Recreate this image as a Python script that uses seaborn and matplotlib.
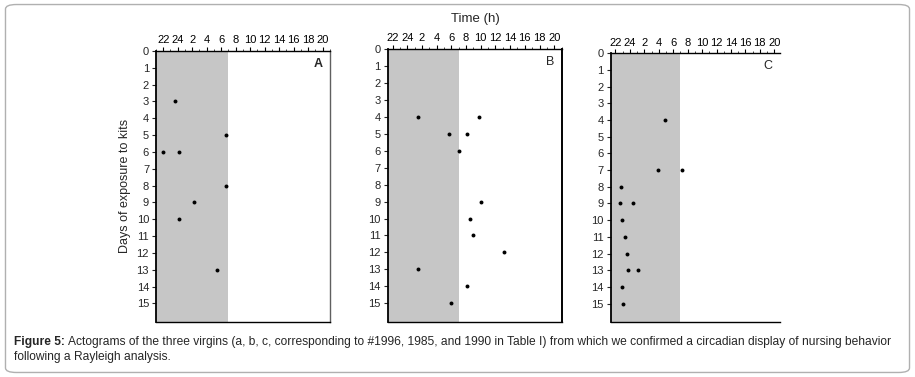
import numpy as np
import pandas as pd
import seaborn as sns
import matplotlib.pyplot as plt
from matplotlib.patches import FancyBboxPatch
from matplotlib.ticker import MultipleLocator, FixedLocator

sns.set_style("ticks")
plt.rcParams['font.family'] = ['Liberation Sans', 'DejaVu Sans']

# clock time (h) of each nursing bout and the day it happened
a_days = [3, 5, 6, 6, 8, 9, 10, 13]
a_hours = [23.6, 6.6, 22.0, 0.2, 6.6, 2.3, 0.2, 5.4]
b_days = [4, 4, 5, 5, 6, 9, 10, 11, 12, 13, 14, 15]
b_hours = [1.5, 9.8, 5.7, 8.1, 7.0, 10.1, 8.5, 9.0, 13.2, 1.5, 8.1, 5.9]
c_days = [4, 7, 7, 8, 9, 9, 10, 11, 12, 13, 13, 14, 15]
c_hours = [4.9, 3.9, 7.2, 22.7, 22.6, 0.4, 22.9, 23.3, 23.6, 23.8, 1.1, 22.9, 23.1]

tick_hours = [22, 24, 2, 4, 6, 8, 10, 12, 14, 16, 18, 20]
day_ticks = list(range(0, 16))
dark_end = 7  # shaded period ends at 7:00
panel_names = ['A', 'B', 'C']


def unwrap(h):
    h = np.asarray(h, dtype=float)
    return np.where(h < 21, h + 24, h)


fig = plt.figure(figsize=(9.15, 3.77), dpi=100)

# rounded frame round the whole figure
fig.patches.append(FancyBboxPatch((0.006, 0.012), 0.988, 0.976,
                                  boxstyle="round,pad=0,rounding_size=0.012",
                                  transform=fig.transFigure, fill=False,
                                  edgecolor='#b0b0b0', linewidth=1.0))

positions = [[0.1705, 0.146, 0.190, 0.719],
             [0.4235, 0.146, 0.191, 0.724],
             [0.6675, 0.146, 0.185, 0.713]]
xlims = [(21.0, 45.0), (21.3, 45.1), (21.35, 44.8)]

for i, (days, hours) in enumerate([(a_days, a_hours), (b_days, b_hours), (c_days, c_hours)]):
    ax = fig.add_axes(positions[i])
    df = pd.DataFrame({'day': days, 'hour': unwrap(hours)})
    ax.axvspan(xlims[i][0], dark_end + 24, color='#c6c6c6', lw=0, zorder=0)
    sns.scatterplot(data=df, x='hour', y='day', ax=ax, color='black', s=8,
                    marker='o', edgecolor='black', linewidth=0, zorder=3)
    ax.set_xlim(*xlims[i])
    ax.set_ylim(16.1, 0)
    ax.xaxis.tick_top()
    ax.xaxis.set_label_position('top')
    ax.xaxis.set_major_locator(FixedLocator(unwrap(tick_hours)))
    ax.set_xticklabels([str(t) for t in tick_hours])
    ax.xaxis.set_minor_locator(MultipleLocator(1))
    ax.set_yticks(day_ticks)
    ax.set_yticklabels([str(d) for d in day_ticks])
    ax.tick_params(axis='x', which='major', length=3, width=0.8, pad=1,
                   labelsize=8, colors='black')
    ax.tick_params(axis='x', which='minor', length=1.5, width=0.6)
    ax.tick_params(axis='y', length=3, width=0.8, pad=2, labelsize=8)
    for s in ['left', 'top', 'bottom']:
        ax.spines[s].set_color('black')
        ax.spines[s].set_linewidth(1.0)
    ax.spines['left'].set_linewidth(1.3)
    if i == 2:
        ax.spines['right'].set_visible(False)
    else:
        ax.spines['right'].set_color('#606060' if i == 0 else 'black')
        ax.spines['right'].set_linewidth(1.0 if i == 0 else 1.4)
    ax.set_xlabel('Time (h)' if i == 1 else '', fontsize=9.5, labelpad=8)
    ax.set_ylabel('Days of exposure to kits' if i == 0 else '', fontsize=9, labelpad=4)
    ax.text(0.93, 0.975, panel_names[i], transform=ax.transAxes, ha='center', va='top',
            fontsize=9, fontweight='bold' if i == 0 else 'normal')

cap_size = 8.65
cap_x = 0.0155
head = fig.text(cap_x, 0.086, 'Figure 5:', fontsize=cap_size, fontweight='bold',
                ha='left', va='baseline')
fig.canvas.draw()
bb = head.get_window_extent().transformed(fig.transFigure.inverted())
fig.text(bb.x1 + 0.003, 0.086,
         'Actograms of the three virgins (a, b, c, corresponding to #1996, 1985, and 1990 in Table I) '
         'from which we confirmed a circadian display of nursing behavior',
         fontsize=cap_size, ha='left', va='baseline')
fig.text(cap_x, 0.044, 'following a Rayleigh analysis.', fontsize=cap_size,
         ha='left', va='baseline')

fig.savefig('out.png', dpi=100)
